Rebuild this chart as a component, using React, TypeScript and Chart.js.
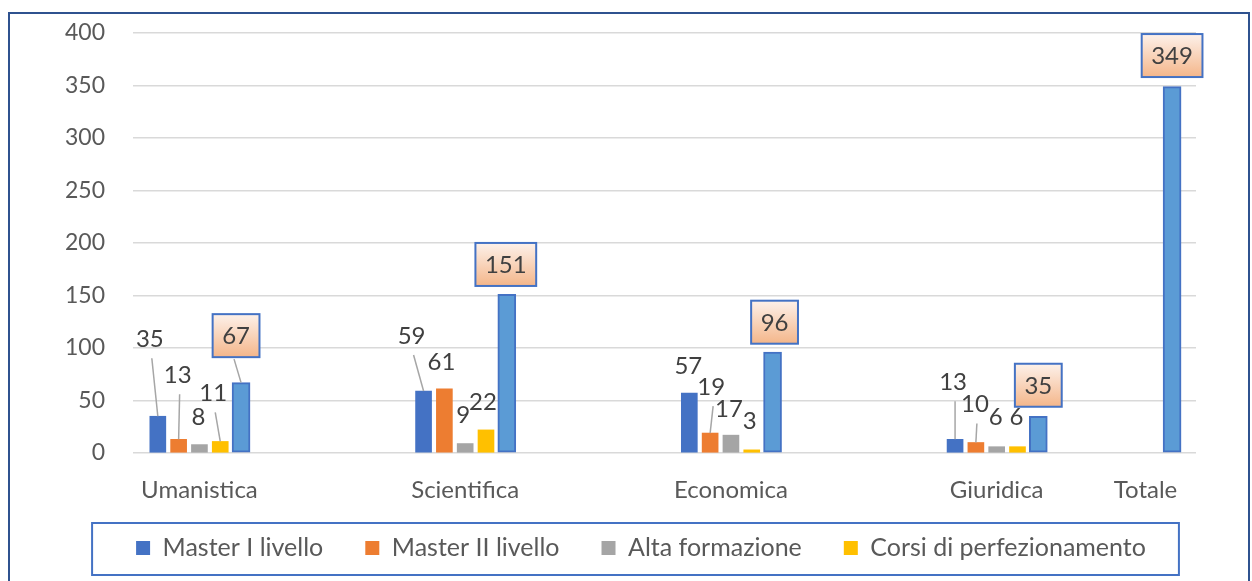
import React, { useEffect, useRef } from 'react';
import { Chart, registerables } from 'chart.js';

Chart.register(...registerables);

// ---------- data ----------
const categories = ['Umanistica', 'Scientifica', 'Economica', 'Giuridica', 'Totale'];
const seriesNames = ['Master I livello', 'Master II livello', 'Alta formazione', 'Corsi di perfezionamento'];
const masterI: (number | null)[] = [35, 59, 57, 13, null];
const masterII: (number | null)[] = [13, 61, 19, 10, null];
const altaFormazione: (number | null)[] = [8, 9, 17, 6, null];
const corsiPerfezionamento: (number | null)[] = [11, 22, 3, 6, null];
const totale: (number | null)[] = [67, 151, 96, 35, 349];
const yMin = 0;
const yMax = 400;
const yStep = 50;

// ---------- layout / style ----------
const categoryPos = [0.25, 1.25, 2.25, 3.25, 3.81]; // x positions of the category groups
const slot = 0.0783; // distance between bars of one group (x units)
const loneBarShift = 0.1; // shift of a bar that is alone in its category
const seriesColors = ['#4472C4', '#ED7D31', '#A5A5A5', '#FFC000'];
const totalFill = '#5B9BD5';
const totalBorder = '#4472C4';
const FONT = "Lato, 'Noto Sans', sans-serif";
const LABEL_SIZE = 24;
// label offsets (px) relative to the top centre of each bar: [series][category]
const labelOffsets: ([number, number] | null)[][] = [
  [[-8, -77], [-12, -55], [-1, -27], [-2, -57], null],
  [[-1, -64], [-3, -27], [1, -46], [-1, -38], null],
  [[-1, -27], [-2, -28], [-2, -26], [-1, -29], null],
  [[-7, -48], [-3, -28], [-2, -29], [-1, -29], null],
  [[-5, -47], [-1, -30], [2, -30], [0, -31], [0, -31]],
];

const seriesValues = [masterI, masterII, altaFormazione, corsiPerfezionamento];

function buildDatasets() {
  const ds: any[] = seriesValues.map((vals, k) => ({
    label: seriesNames[k],
    data: vals
      .map((v, i) => (v == null ? null : { x: categoryPos[i] + (k - 2) * slot, y: v, cat: i }))
      .filter(Boolean),
    backgroundColor: seriesColors[k],
    borderWidth: 0,
    barThickness: 16,
    maxBarThickness: 16,
    grouped: false,
  }));
  ds.push({
    label: 'Totale',
    data: totale.map((v, i) => {
      const alone = seriesValues.every((s) => s[i] == null);
      return { x: categoryPos[i] + (alone ? loneBarShift : 2 * slot), y: v, cat: i };
    }),
    backgroundColor: totalFill,
    borderColor: totalBorder,
    borderWidth: 2,
    borderSkipped: false,
    barThickness: 18,
    maxBarThickness: 18,
    grouped: false,
  });
  return ds;
}

const valueLabelPlugin = {
  id: 'valueLabels',
  afterDatasetsDraw(chart: any) {
    const ctx = chart.ctx;
    ctx.save();
    ctx.font = `${LABEL_SIZE}px ${FONT}`;
    ctx.textAlign = 'center';
    ctx.textBaseline = 'middle';
    chart.data.datasets.forEach((ds: any, di: number) => {
      const meta = chart.getDatasetMeta(di);
      meta.data.forEach((bar: any, j: number) => {
        const raw = ds.data[j];
        const off = labelOffsets[di][raw.cat];
        if (!off) return;
        const lx = bar.x + off[0];
        const ly = bar.y + off[1];
        const text = String(raw.y);
        if (di === 4) {
          const w = ctx.measureText(text).width + 19;
          const h = 43;
          if (off[1] < -35) {
            ctx.strokeStyle = '#A6A6A6';
            ctx.lineWidth = 1.5;
            ctx.beginPath();
            ctx.moveTo(lx - 2, ly + h / 2 + 2);
            ctx.lineTo(bar.x, bar.y);
            ctx.stroke();
          }
          const g = ctx.createLinearGradient(0, ly - h / 2, 0, ly + h / 2);
          g.addColorStop(0, '#FDF1EA');
          g.addColorStop(1, '#F4B68A');
          ctx.fillStyle = g;
          ctx.fillRect(lx - w / 2, ly - h / 2, w, h);
          ctx.strokeStyle = '#4472C4';
          ctx.lineWidth = 2;
          ctx.strokeRect(lx - w / 2, ly - h / 2, w, h);
          ctx.fillStyle = '#404040';
          ctx.fillText(text, lx, ly + 1);
        } else {
          if (off[1] < -35) {
            ctx.strokeStyle = '#A6A6A6';
            ctx.lineWidth = 1.5;
            ctx.beginPath();
            ctx.moveTo(lx + 2, ly + 19);
            ctx.lineTo(bar.x, bar.y);
            ctx.stroke();
          }
          ctx.fillStyle = '#404040';
          ctx.fillText(text, lx, ly);
        }
      });
    });
    ctx.restore();
  },
};

// place the legend under the chart (centred a little left of the plot) and frame it
const legendBoxPlugin = {
  id: 'legendBox',
  afterLayout(chart: any) {
    const lg = chart.legend;
    if (!lg) return;
    const ca = chart.chartArea;
    const dy = -10.5;
    lg.top += dy;
    lg.bottom += dy;
    lg.left = ca.left - 47;
    lg.right = ca.right;
    lg.width = lg.right - lg.left;
  },
  afterDraw(chart: any) {
    const lg = chart.legend;
    if (!lg || !lg.legendHitBoxes || !lg.legendHitBoxes.length) return;
    const hb = lg.legendHitBoxes;
    const first = hb[0];
    const last = hb[hb.length - 1];
    const cy = first.top + first.height / 2;
    const left = first.left - 44;
    const right = last.left + last.width + 33;
    const ctx = chart.ctx;
    ctx.save();
    ctx.strokeStyle = '#4472C4';
    ctx.lineWidth = 2;
    ctx.strokeRect(left, cy - 25, right - left, 52);
    ctx.restore();
  },
};

export default function App() {
  const ref = useRef<HTMLCanvasElement | null>(null);
  useEffect(() => {
    if (!ref.current) return;
    const chart = new Chart(ref.current, {
      type: 'bar',
      data: { datasets: buildDatasets() },
      options: {
        animation: false,
        responsive: false,
        devicePixelRatio: 1,
        layout: { autoPadding: false, padding: { left: 40, right: 56, top: 33, bottom: 0 } },
        plugins: {
          tooltip: { enabled: false },
          legend: {
            position: 'bottom',
            labels: {
              filter: (item: any) => item.datasetIndex < 4,
              boxWidth: 14,
              boxHeight: 14,
              padding: 42,
              color: '#595959',
              font: { family: FONT, size: 25 },
            },
          },
        },
        scales: {
          x: {
            type: 'linear',
            min: 0,
            max: 4,
            offset: false,
            grid: { display: false, drawTicks: false },
            border: { display: false },
            afterBuildTicks: (s: any) => {
              s.ticks = categoryPos.map((v) => ({ value: v }));
            },
            ticks: {
              autoSkip: false,
              maxRotation: 0,
              padding: 23,
              color: '#595959',
              font: { family: FONT, size: 24 },
              callback: (v: any) => categories[categoryPos.indexOf(v)] ?? '',
            },
            afterFit: (s: any) => {
              s.height = 51;
              s.paddingLeft = 0;
              s.paddingRight = 0;
            },
          },
          y: {
            min: yMin,
            max: yMax,
            ticks: {
              stepSize: yStep,
              padding: 28,
              color: '#595959',
              font: { family: FONT, size: 23 },
            },
            grid: { color: '#D9D9D9', lineWidth: 1.5, drawTicks: false },
            border: { display: false },
            afterFit: (s: any) => {
              s.width = 93;
              s.paddingTop = 0;
              s.paddingBottom = 0;
            },
          },
        },
      } as any,
      plugins: [valueLabelPlugin, legendBoxPlugin],
    });
    return () => chart.destroy();
  }, []);

  return (
    <div style={{ position: 'fixed', left: 0, top: 0, width: 1252, height: 581, background: '#fff', overflow: 'hidden' }}>
      <canvas ref={ref} width={1252} height={581} style={{ position: 'absolute', left: 0, top: 0 }} />
      <div
        style={{
          position: 'absolute',
          left: 8,
          top: 12,
          width: 1242,
          height: 620,
          border: '2px solid #2F528F',
          boxSizing: 'border-box',
          pointerEvents: 'none',
        }}
      />
    </div>
  );
}
